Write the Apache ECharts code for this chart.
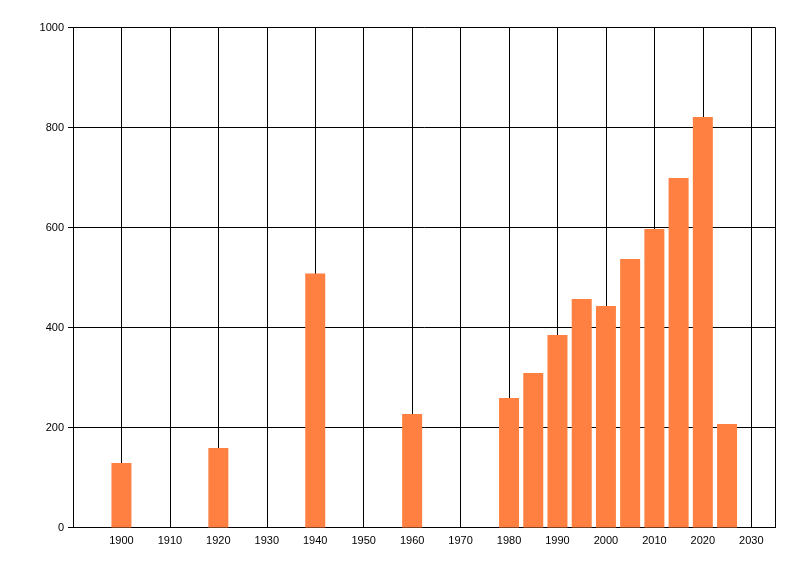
<!DOCTYPE html>
<html>
<head>
<meta charset="utf-8">
<script src="https://cdn.jsdelivr.net/npm/echarts@6/dist/echarts.min.js"></script>
<style>
	html, body { margin: 0; padding: 0; background: #fff; }
	#main { width: 800px; height: 576px; }
</style>
</head>
<body>
<div id="main"></div>
<script>
// years on the x axis and the value of each bar
var years = [1900, 1920, 1940, 1960, 1980, 1985, 1990, 1995, 2000, 2005, 2010, 2015, 2020, 2025];
var counts = [129, 159, 508, 227, 259, 309, 385, 457, 443, 537, 597, 699, 821, 207];
var yTicks = [0, 200, 400, 600, 800, 1000];

var barData = [];
for (var i = 0; i < years.length; i++) {
	barData.push([years[i], counts[i]]);
}

var myChart = echarts.init(document.getElementById('main'));
var labelFont = {
	color: '#000',
	fontFamily: 'Liberation Sans',
	fontSize: 11
};
var option = {
	animation: false,
	backgroundColor: '#fff',
	grid: {
		left: 73,
		right: 24.5,
		top: 27.5,
		bottom: 48.5
	},
	xAxis: {
		type: 'value',
		min: 1890,
		max: 2035,
		interval: 10,
		axisLine: { lineStyle: { color: '#000', width: 1 } },
		axisTick: { show: false },
		splitLine: { show: true, lineStyle: { color: '#000', width: 1 } },
		axisLabel: Object.assign({
			margin: 8,
			showMaxLabel: false,
			formatter: function(v) {
				return v === 1890 ? '' : String(v);
			}
		}, labelFont)
	},
	yAxis: {
		type: 'value',
		min: yTicks[0],
		max: yTicks[yTicks.length - 1],
		interval: 200,
		axisLine: { show: true, lineStyle: { color: '#000', width: 1 } },
		axisTick: { show: true, length: 5, lineStyle: { color: '#000' } },
		splitLine: { show: true, lineStyle: { color: '#000', width: 1 } },
		axisLabel: Object.assign({
			margin: 9,
			formatter: function(v) {
				return String(v);
			}
		}, labelFont)
	},
	series: [{
		type: 'bar',
		data: barData,
		barWidth: 20,
		itemStyle: { color: '#ff8041' }
	}]
};
myChart.setOption(option);
</script>
</body>
</html>
